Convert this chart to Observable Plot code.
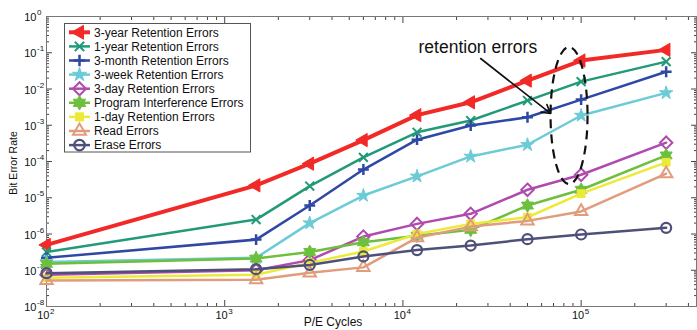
<!DOCTYPE html>
<html>
<head>
<meta charset="utf-8">
<script src="https://cdn.jsdelivr.net/npm/d3@7"></script>
<script src="https://cdn.jsdelivr.net/npm/@observablehq/plot@0.6"></script>
<style>
  html, body { margin: 0; padding: 0; background: #fff; }
  #chart { width: 697px; height: 330px; }
</style>
</head>
<body>
<div id="chart"></div>
<script>
// ---- data ----
const cycles = [100, 1500, 3000, 6000, 12000, 24000, 50000, 100000, 300000];

const seriesNames = [
  "3-year Retention Errors",
  "1-year Retention Errors",
  "3-month Retention Errors",
  "3-week Retention Errors",
  "3-day Retention Errors",
  "Program Interference Errors",
  "1-day Retention Errors",
  "Read Errors",
  "Erase Errors"
];

const threeYear    = [5e-7, 2.2e-5, 8.7e-5, 3.9e-4, 1.9e-3, 4.3e-3, 1.7e-2, 6.1e-2, 1.2e-1];
const oneYear      = [3.2e-7, 2.5e-6, 2.1e-5, 1.3e-4, 6.4e-4, 1.35e-3, 4.8e-3, 1.6e-2, 5.7e-2];
const threeMonth   = [2.2e-7, 7e-7, 6.1e-6, 6e-5, 4e-4, 9.8e-4, 1.66e-3, 5.1e-3, 3.0e-2];
const threeWeek    = [1.7e-7, 2.2e-7, 2.0e-6, 1.15e-5, 3.9e-5, 1.38e-4, 2.9e-4, 1.86e-3, 7.8e-3];
const threeDay     = [7.5e-8, 1.0e-7, 1.9e-7, 8.5e-7, 1.9e-6, 3.6e-6, 1.66e-5, 4.3e-5, 3.3e-4];
const programIntf  = [1.5e-7, 2.1e-7, 3.2e-7, 5.9e-7, 9e-7, 1.3e-6, 6.1e-6, 1.66e-5, 1.47e-4];
const oneDay       = [6.2e-8, 7.5e-8, 1.6e-7, 3.3e-7, 1.0e-6, 1.9e-6, 2.9e-6, 1.3e-5, 9.5e-5];
const readErr      = [5.2e-8, 5.5e-8, 8.5e-8, 1.2e-7, 7.9e-7, 1.6e-6, 2.3e-6, 4.2e-6, 4.6e-5];
const eraseErr     = [8.3e-8, 1.07e-7, 1.4e-7, 2.4e-7, 3.6e-7, 4.8e-7, 7.2e-7, 9.7e-7, 1.48e-6];

const seriesValues = [threeYear, oneYear, threeMonth, threeWeek, threeDay, programIntf, oneDay, readErr, eraseErr];

const xDecades = [1e2, 1e3, 1e4, 1e5];
const yDecades = [1e-8, 1e-7, 1e-6, 1e-5, 1e-4, 1e-3, 1e-2, 1e-1, 1];
const xExponents = ["2", "3", "4", "5"];
const yExponents = ["-8", "-7", "-6", "-5", "-4", "-3", "-2", "-1", "0"];

const annotationText = "retention errors";
const annotationTextPos = {x: 1.223e4, y: 0.1396};
const arrowPos = {x1: 2.73e4, y1: 0.0694, x2: 6.73e4, y2: 2.11e-3};
const ellipseCenter = {x: 8.61e4, y: 1.8e-3};

// ---- styles ----
const hexagram = {
  draw(ctx, size) {
    const R = Math.sqrt(size / Math.PI) * 1.6, r = R / Math.sqrt(3);
    for (let i = 0; i < 12; i++) {
      const a = -Math.PI / 2 + i * Math.PI / 6;
      const rr = i % 2 === 0 ? R : r;
      const px = rr * Math.cos(a), py = rr * Math.sin(a);
      if (i === 0) ctx.moveTo(px, py); else ctx.lineTo(px, py);
    }
    ctx.closePath();
  }
};

const styles = [
  {color: "#f22a27", lw: 4,   sym: d3.symbolTriangle, r: 4.9, filled: true,  rotate: -90, sw: 1},
  {color: "#229a78", lw: 2.5, sym: d3.symbolTimes,    r: 4.1, filled: false, rotate: 0, sw: 2},
  {color: "#2f48a6", lw: 2.5, sym: d3.symbolPlus,     r: 3.6, filled: false, rotate: 0, sw: 2.5},
  {color: "#6ccbd6", lw: 2.5, sym: d3.symbolStar,     r: 4.2, filled: true,  rotate: 0, sw: 1},
  {color: "#b04aae", lw: 2.5, sym: d3.symbolDiamond2, r: 5.6, filled: false, rotate: 0, sw: 2},
  {color: "#6dbf3e", lw: 2.5, sym: hexagram,          r: 4.3, filled: true,  rotate: 0, sw: 1},
  {color: "#ecea38", lw: 2.5, sym: d3.symbolSquare,   r: 4.4, filled: true,  rotate: 0, sw: 1},
  {color: "#e09c7c", lw: 2.5, sym: d3.symbolTriangle, r: 4.6, filled: false, rotate: 0, sw: 2},
  {color: "#4f5079", lw: 2.5, sym: d3.symbolCircle,   r: 5,   filled: false, rotate: 0, sw: 2.2}
];

// ---- ticks ----
const xMinor = [];
for (const d of [1e2, 1e3, 1e4, 1e5]) for (let k = 2; k <= 9; k++) if (d * k <= 4.44e5) xMinor.push(d * k);
const yMinor = [];
for (const d of yDecades.slice(0, 8)) for (let k = 2; k <= 9; k++) yMinor.push(d * k);

const font = "'Liberation Sans', Arial, Helvetica, sans-serif";
const tickColor = "#444";

const marks = [];
// axis ticks (inward) on all four sides
for (const anchor of ["bottom", "top"]) {
  marks.push(Plot.axisX(xDecades, {anchor, tickSize: -6, tickFormat: () => "", label: null, stroke: tickColor}));
  marks.push(Plot.axisX(xMinor, {anchor, tickSize: -3, tickFormat: () => "", label: null, stroke: tickColor}));
}
for (const anchor of ["left", "right"]) {
  marks.push(Plot.axisY(yDecades, {anchor, tickSize: -6, tickFormat: () => "", label: null, stroke: tickColor}));
  marks.push(Plot.axisY(yMinor, {anchor, tickSize: -3, tickFormat: () => "", label: null, stroke: tickColor}));
}
marks.push(Plot.frame({stroke: "#777", strokeWidth: 1}));

// tick labels
marks.push(Plot.text(xDecades, {x: d => d, frameAnchor: "bottom", dy: 12, dx: 3, text: () => "10", textAnchor: "end", fontSize: 11, fill: "#111"}));
marks.push(Plot.text(xDecades, {x: d => d, frameAnchor: "bottom", dy: 7, dx: 3.5, text: (d, i) => xExponents[i], textAnchor: "start", fontSize: 8, fill: "#111"}));
marks.push(Plot.text(yDecades, {y: d => d, frameAnchor: "left", dx: -10, dy: 1, text: () => "10", textAnchor: "end", fontSize: 11, fill: "#111"}));
marks.push(Plot.text(yDecades, {y: d => d, frameAnchor: "left", dx: -9.5, dy: -4, text: (d, i) => yExponents[i], textAnchor: "start", fontSize: 8, fill: "#111"}));

// series
seriesValues.forEach((vals, si) => {
  const s = styles[si];
  const pts = cycles.map((c, i) => ({x: c, y: vals[i]}));
  marks.push(Plot.line(pts, {x: "x", y: "y", stroke: s.color, strokeWidth: s.lw, strokeLinejoin: "round"}));
  marks.push(Plot.dot(pts, {
    x: "x", y: "y", symbol: s.sym, r: s.r, rotate: s.rotate,
    fill: s.filled ? s.color : "none", stroke: s.color, strokeWidth: s.sw
  }));
});

// annotation
marks.push(Plot.text([annotationTextPos], {x: "x", y: "y", text: () => annotationText, textAnchor: "start", fontSize: 17.5, fill: "#111"}));
marks.push(Plot.arrow([arrowPos], {x1: "x1", y1: "y1", x2: "x2", y2: "y2", stroke: "#111", strokeWidth: 1.6, headLength: 9}));

const chart = Plot.plot({
  width: 697,
  height: 330,
  marginLeft: 46,
  marginRight: 1,
  marginTop: 16,
  marginBottom: 24,
  x: {type: "log", domain: [100, 4.44e5], axis: null},
  y: {type: "log", domain: [1e-8, 1], axis: null},
  style: {fontFamily: font, background: "white", overflow: "visible"},
  marks
});

document.getElementById("chart").appendChild(chart);

// axis titles, ellipse and legend
const svg = d3.select(chart);
const xs = chart.scale("x"), ys = chart.scale("y");

svg.append("text")
  .attr("x", 333).attr("y", 322).attr("dy", "0.35em")
  .attr("text-anchor", "middle").attr("font-family", font).attr("font-size", 12).attr("fill", "#111")
  .text("P/E Cycles");
svg.append("text")
  .attr("transform", "translate(13,163) rotate(-90)").attr("dy", "0.35em")
  .attr("text-anchor", "middle").attr("font-family", font).attr("font-size", 10.5).attr("fill", "#111")
  .text("Bit Error Rate");

svg.append("ellipse")
  .attr("cx", xs.apply(ellipseCenter.x)).attr("cy", ys.apply(ellipseCenter.y))
  .attr("rx", 18.5).attr("ry", 68.5)
  .attr("fill", "none").attr("stroke", "#111").attr("stroke-width", 2.2)
  .attr("stroke-dasharray", "9,6");

const lg = svg.append("g").attr("font-family", font).attr("font-size", 12).attr("text-anchor", "start");
lg.append("rect").attr("x", 64.5).attr("y", 23.5).attr("width", 186).attr("height", 128.5)
  .attr("fill", "white").attr("stroke", "#555").attr("stroke-width", 1);
seriesNames.forEach((name, i) => {
  const s = styles[i];
  const y = 32.3 + i * 14.1;
  lg.append("line").attr("x1", 69).attr("x2", 90).attr("y1", y).attr("y2", y)
    .attr("stroke", s.color).attr("stroke-width", s.lw);
  lg.append("path")
    .attr("transform", `translate(79.5,${y}) rotate(${s.rotate})`)
    .attr("d", d3.symbol(s.sym, Math.PI * s.r * s.r * 1.1)())
    .attr("fill", s.filled ? s.color : "none").attr("stroke", s.color).attr("stroke-width", s.sw);
  lg.append("text").attr("x", 94).attr("y", y).attr("dy", "0.35em")
    .attr("text-anchor", "start").attr("fill", "#111").text(name);
});
</script>
</body>
</html>
